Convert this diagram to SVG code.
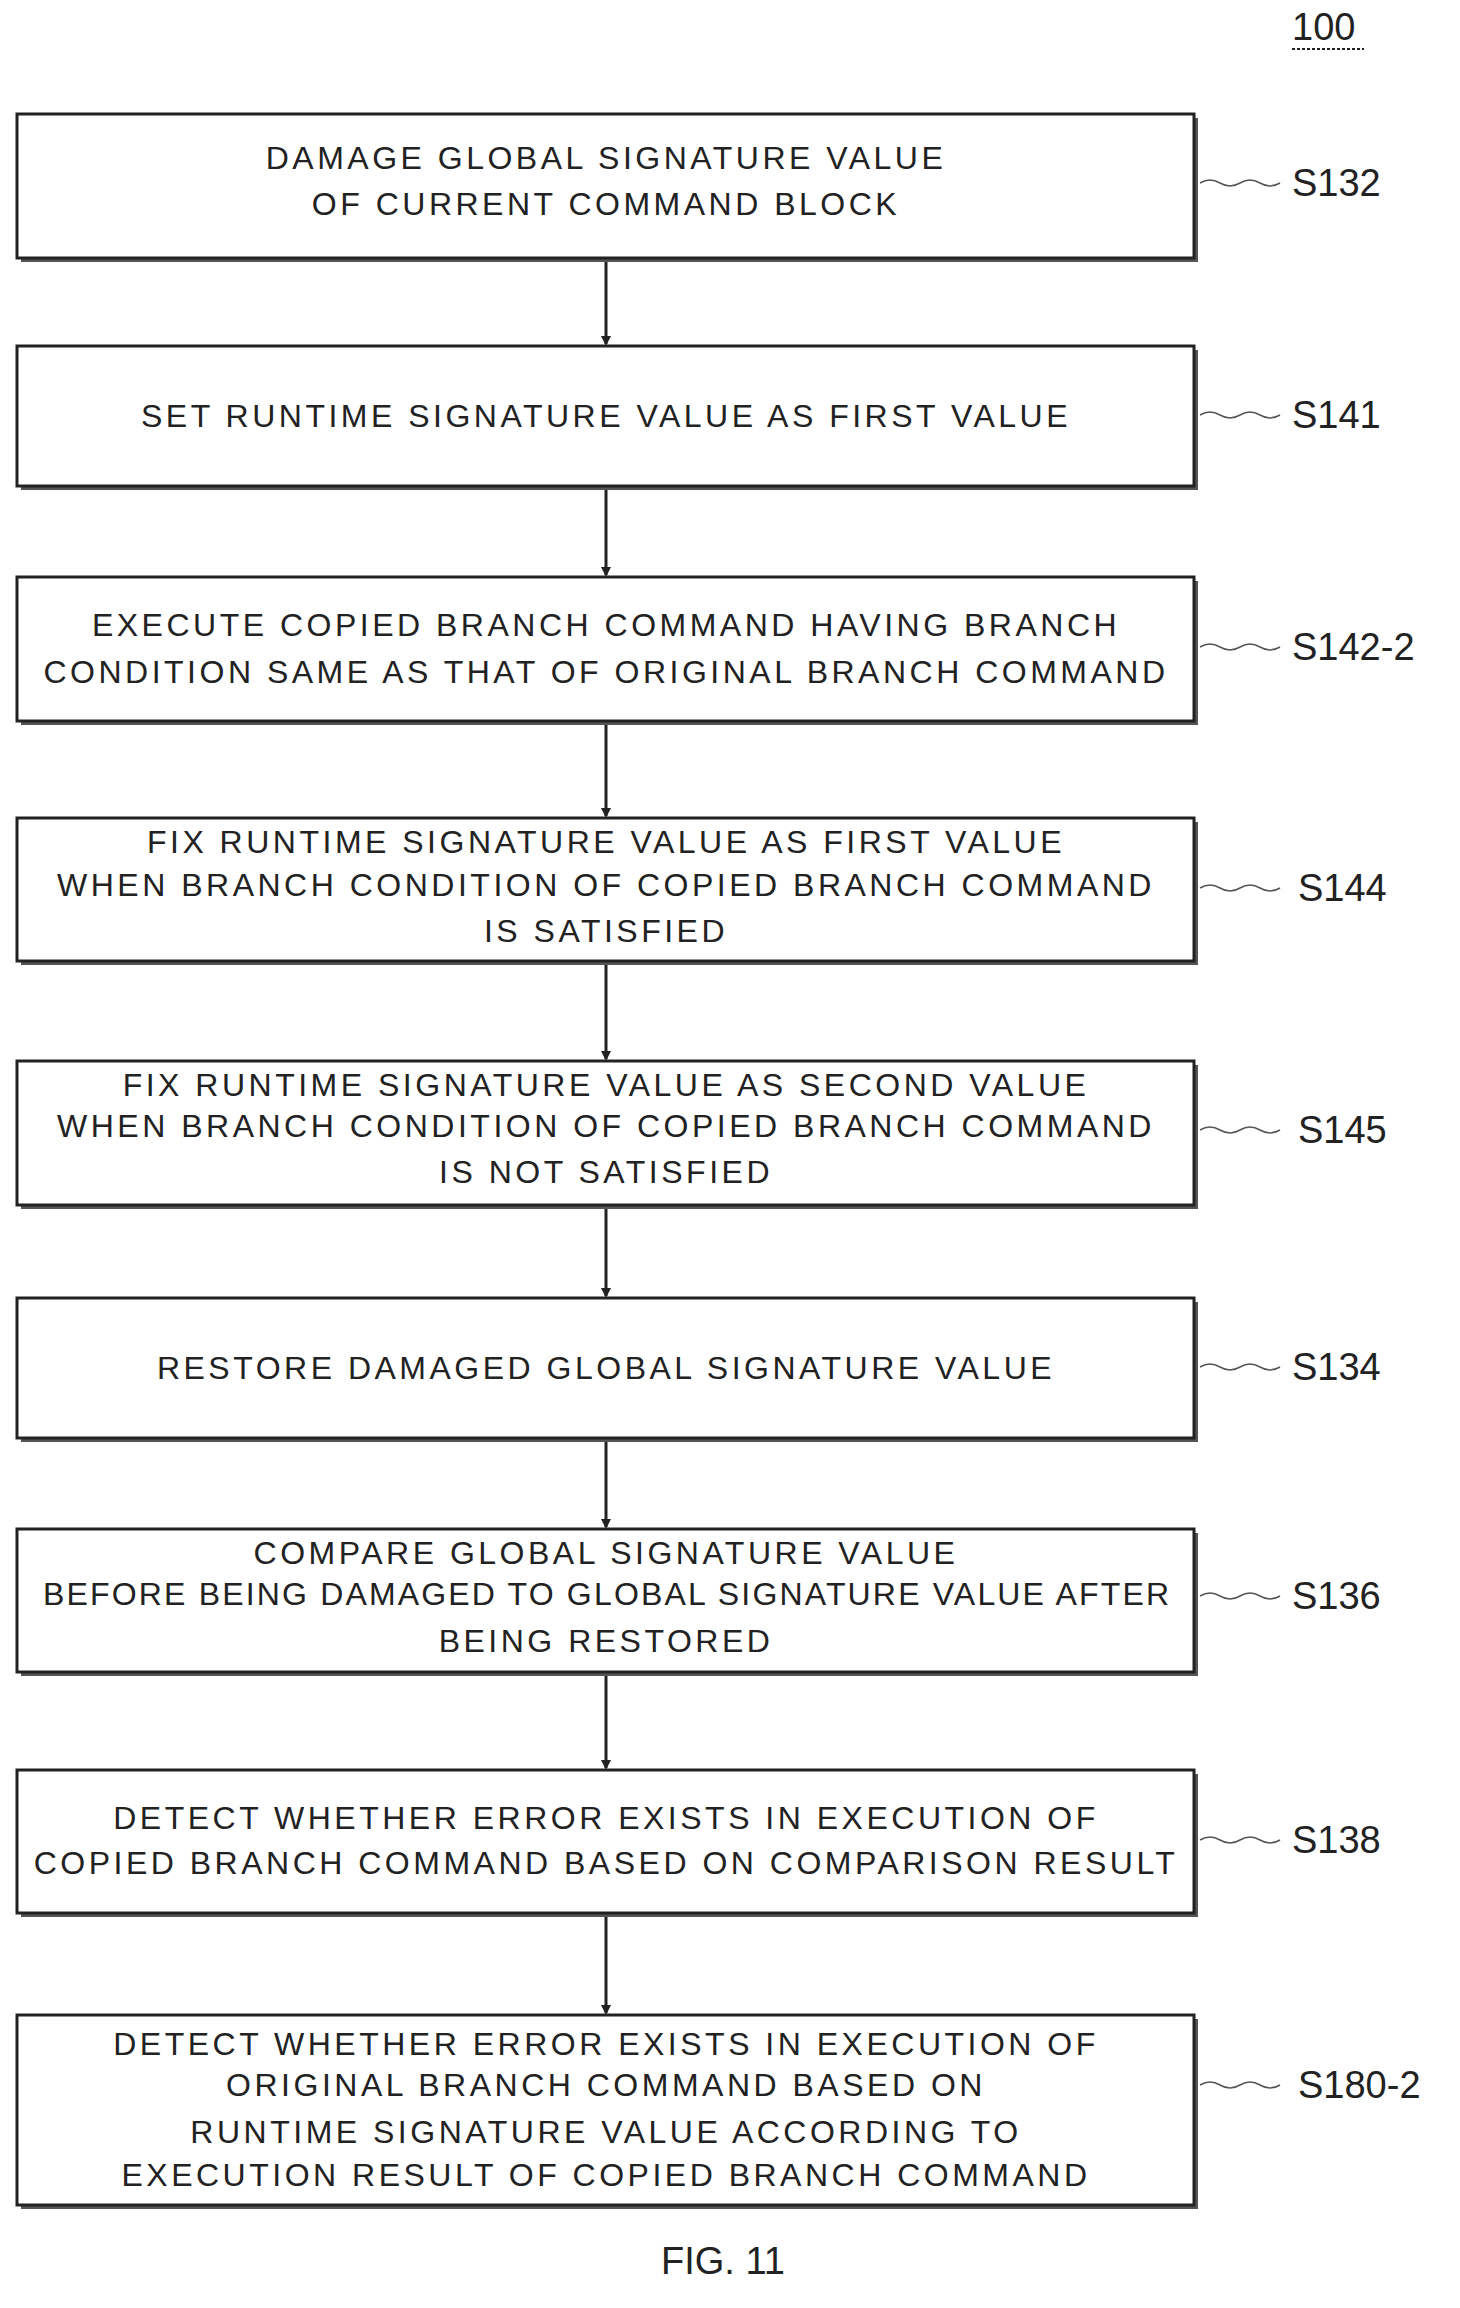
<svg xmlns="http://www.w3.org/2000/svg" width="1460" height="2308" viewBox="0 0 1460 2308">
<style>
.b{fill:#fff;stroke:#222;stroke-width:3}
.s{fill:#555}
.t{font-family:"Liberation Sans",Arial,sans-serif;font-size:32px;fill:#222;text-anchor:middle;letter-spacing:3.5px}
.l{font-family:"Liberation Sans",Arial,sans-serif;font-size:38px;fill:#222}
.w{fill:none;stroke:#555;stroke-width:1.5}
.c{stroke:#222;stroke-width:3;fill:none;marker-end:url(#a)}
</style>
<defs>
<marker id="a" markerWidth="10" markerHeight="10" refX="8" refY="5" orient="auto" markerUnits="userSpaceOnUse"><path d="M0,0 L10,5 L0,10 z" fill="#222"/></marker>
</defs>
<rect width="1460" height="2308" fill="#fff"/>
<text class="l" x="1292" y="40">100</text>
<line x1="1292" y1="49" x2="1364" y2="49" stroke="#222" stroke-width="2" stroke-dasharray="3,2"/>
<g id="connectors">
<line class="c" x1="606" y1="260" x2="606" y2="344"/>
<line class="c" x1="606" y1="488" x2="606" y2="575"/>
<line class="c" x1="606" y1="723" x2="606" y2="816"/>
<line class="c" x1="606" y1="963" x2="606" y2="1059"/>
<line class="c" x1="606" y1="1207" x2="606" y2="1296"/>
<line class="c" x1="606" y1="1440" x2="606" y2="1527"/>
<line class="c" x1="606" y1="1674" x2="606" y2="1768"/>
<line class="c" x1="606" y1="1915" x2="606" y2="2013"/>
</g>
<g id="n1"><rect class="s" x="21" y="118" width="1177" height="144"/><rect class="b" x="17" y="114" width="1177" height="144"/>
<text class="t" x="606" y="169">DAMAGE GLOBAL SIGNATURE VALUE</text><text class="t" x="606" y="215">OF CURRENT COMMAND BLOCK</text>
<path class="w" d="M1200,183 q10,-6 20,0 t20,0 t20,0 t20,0"/><text class="l" x="1292" y="196">S132</text></g>
<g id="n2"><rect class="s" x="21" y="350" width="1177" height="140"/><rect class="b" x="17" y="346" width="1177" height="140"/>
<text class="t" x="606" y="427">SET RUNTIME SIGNATURE VALUE AS FIRST VALUE</text>
<path class="w" d="M1200,415 q10,-6 20,0 t20,0 t20,0 t20,0"/><text class="l" x="1292" y="428">S141</text></g>
<g id="n3"><rect class="s" x="21" y="581" width="1177" height="144"/><rect class="b" x="17" y="577" width="1177" height="144"/>
<text class="t" x="606" y="636">EXECUTE COPIED BRANCH COMMAND HAVING BRANCH</text><text class="t" x="606" y="683">CONDITION SAME AS THAT OF ORIGINAL BRANCH COMMAND</text>
<path class="w" d="M1200,647 q10,-6 20,0 t20,0 t20,0 t20,0"/><text class="l" x="1292" y="660">S142-2</text></g>
<g id="n4"><rect class="s" x="21" y="822" width="1177" height="143"/><rect class="b" x="17" y="818" width="1177" height="143"/>
<text class="t" x="606" y="853">FIX RUNTIME SIGNATURE VALUE AS FIRST VALUE</text><text class="t" x="606" y="896">WHEN BRANCH CONDITION OF COPIED BRANCH COMMAND</text><text class="t" x="606" y="942">IS SATISFIED</text>
<path class="w" d="M1200,888 q10,-6 20,0 t20,0 t20,0 t20,0"/><text class="l" x="1298" y="901">S144</text></g>
<g id="n5"><rect class="s" x="21" y="1065" width="1177" height="144"/><rect class="b" x="17" y="1061" width="1177" height="144"/>
<text class="t" x="606" y="1096">FIX RUNTIME SIGNATURE VALUE AS SECOND VALUE</text><text class="t" x="606" y="1137">WHEN BRANCH CONDITION OF COPIED BRANCH COMMAND</text><text class="t" x="606" y="1183">IS NOT SATISFIED</text>
<path class="w" d="M1200,1130 q10,-6 20,0 t20,0 t20,0 t20,0"/><text class="l" x="1298" y="1143">S145</text></g>
<g id="n6"><rect class="s" x="21" y="1302" width="1177" height="140"/><rect class="b" x="17" y="1298" width="1177" height="140"/>
<text class="t" x="606" y="1379">RESTORE DAMAGED GLOBAL SIGNATURE VALUE</text>
<path class="w" d="M1200,1367 q10,-6 20,0 t20,0 t20,0 t20,0"/><text class="l" x="1292" y="1380">S134</text></g>
<g id="n7"><rect class="s" x="21" y="1533" width="1177" height="143"/><rect class="b" x="17" y="1529" width="1177" height="143"/>
<text class="t" x="606" y="1564">COMPARE GLOBAL SIGNATURE VALUE</text><text class="t" x="606" y="1605" style="letter-spacing:0" textLength="1126" lengthAdjust="spacing">BEFORE BEING DAMAGED TO GLOBAL SIGNATURE VALUE AFTER</text><text class="t" x="606" y="1652">BEING RESTORED</text>
<path class="w" d="M1200,1596 q10,-6 20,0 t20,0 t20,0 t20,0"/><text class="l" x="1292" y="1609">S136</text></g>
<g id="n8"><rect class="s" x="21" y="1774" width="1177" height="143"/><rect class="b" x="17" y="1770" width="1177" height="143"/>
<text class="t" x="606" y="1829">DETECT WHETHER ERROR EXISTS IN EXECUTION OF</text><text class="t" x="606" y="1874">COPIED BRANCH COMMAND BASED ON COMPARISON RESULT</text>
<path class="w" d="M1200,1840 q10,-6 20,0 t20,0 t20,0 t20,0"/><text class="l" x="1292" y="1853">S138</text></g>
<g id="n9"><rect class="s" x="21" y="2019" width="1177" height="190"/><rect class="b" x="17" y="2015" width="1177" height="190"/>
<text class="t" x="606" y="2055">DETECT WHETHER ERROR EXISTS IN EXECUTION OF</text><text class="t" x="606" y="2096">ORIGINAL BRANCH COMMAND BASED ON</text><text class="t" x="606" y="2143">RUNTIME SIGNATURE VALUE ACCORDING TO</text><text class="t" x="606" y="2186">EXECUTION RESULT OF COPIED BRANCH COMMAND</text>
<path class="w" d="M1200,2085 q10,-6 20,0 t20,0 t20,0 t20,0"/><text class="l" x="1298" y="2098">S180-2</text></g>
<text class="l" x="723" y="2274" text-anchor="middle">FIG. 11</text>
</svg>
